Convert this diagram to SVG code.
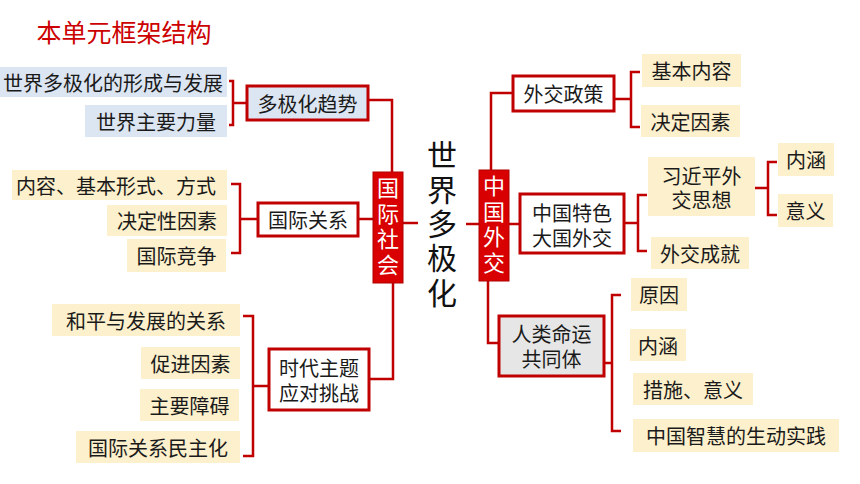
<svg xmlns="http://www.w3.org/2000/svg" width="860" height="484" viewBox="0 0 860 484">
<style>
text{font-family:"Noto Sans CJK SC","Noto Sans",sans-serif;fill:#1a1a1a;font-size:20px;text-anchor:middle;dominant-baseline:central}
text.two{font-family:"Liberation Sans","Noto Sans CJK SC",sans-serif}
.blue{fill:#dce6f2}
.cream{fill:#fdf0cc}
.nd{fill:#fff;stroke:#c00000;stroke-width:3}
.nd.b{fill:#dce6f2}
.nd.g{fill:#e6e6e6}
.core{fill:#d80000;stroke:#b00000;stroke-width:1}
.vt{writing-mode:vertical-rl;text-anchor:start}
.wt{fill:#fff;font-size:22px;letter-spacing:3.5px}
.big{font-size:30px;fill:#111;letter-spacing:4.3px}
.conn path{fill:none;stroke:#c00000;stroke-width:2.5;stroke-linejoin:miter}
</style>
<rect width="860" height="484" fill="#fff"/>
<text x="124" y="31" style="fill:#cc0000;font-size:25px">本单元框架结构</text>

<g class="conn">
<path d="M368 100 H392 V172"/>
<path d="M358 219 H373"/>
<path d="M369 379 H393 V283"/>
<path d="M403 223 H418"/>
<path d="M466 224 H479"/>
<path d="M491 170 V93 H513"/>
<path d="M509 224 H520"/>
<path d="M488 281 V343 H499"/>
<path d="M229 81 H233 V125 H229 M233 103 H247"/>
<path d="M231 184 H240 V253 H231 M240 219 H258"/>
<path d="M243 316 H253 V456 H243 M253 386 H269"/>
<path d="M640 72 H631 V127 H640 M614 99 H631"/>
<path d="M647 195 H638 V251 H647 M624 223 H638"/>
<path d="M777 162 H768 V215 H777 M755 188 H768"/>
<path d="M621 295 H612 V431 H621 M604 363 H612"/>
</g>

<g id="center">
<text x="442" y="140" class="big vt">世界多极化</text>
</g>

<g id="guojishehui">
<rect x="373" y="172" width="30" height="111" class="core"/>
<text x="388" y="177" class="wt vt">国际社会</text>
</g>
<g id="zhongguowaijiao">
<rect x="479" y="170" width="30" height="111" class="core"/>
<text x="494" y="175" class="wt vt">中国外交</text>
</g>

<g id="duojihua">
<rect x="247" y="86" width="121" height="34" class="nd b"/>
<text x="307.5" y="103">多极化趋势</text>
</g>
<g id="l1a"><rect x="0" y="67" width="227" height="30" class="blue"/><text x="113" y="82">世界多极化的形成与发展</text></g>
<g id="l1b"><rect x="85" y="105" width="142" height="32" class="blue"/><text x="156" y="121">世界主要力量</text></g>

<g id="guojiguanxi">
<rect x="258" y="203" width="100" height="33" class="nd"/>
<text x="308" y="219.5">国际关系</text>
</g>
<g id="l2a"><rect x="12" y="170" width="215" height="30" class="cream"/><text x="116" y="185">内容、基本形式、方式</text></g>
<g id="l2b"><rect x="107" y="205" width="120" height="31" class="cream"/><text x="167" y="220.5">决定性因素</text></g>
<g id="l2c"><rect x="127" y="239" width="99" height="33" class="cream"/><text x="176.5" y="255.5">国际竞争</text></g>

<g id="shidai">
<rect x="269" y="349" width="100" height="61" class="nd"/>
<text class="two"><tspan x="319" y="369">时代主题</tspan><tspan x="319" y="394">应对挑战</tspan></text>
</g>
<g id="l3a"><rect x="52" y="304" width="188" height="32" class="cream"/><text x="146" y="320">和平与发展的关系</text></g>
<g id="l3b"><rect x="141" y="347" width="99" height="32" class="cream"/><text x="190.5" y="363">促进因素</text></g>
<g id="l3c"><rect x="140" y="389" width="99" height="32" class="cream"/><text x="189.5" y="405">主要障碍</text></g>
<g id="l3d"><rect x="76" y="431" width="164" height="32" class="cream"/><text x="158" y="447">国际关系民主化</text></g>

<g id="waijiaozhengce">
<rect x="513" y="76" width="101" height="35" class="nd"/>
<text x="563.5" y="93.5">外交政策</text>
</g>
<g id="r1a"><rect x="642" y="54" width="99" height="33" class="cream"/><text x="691.5" y="70.5">基本内容</text></g>
<g id="r1b"><rect x="641" y="105" width="99" height="32" class="cream"/><text x="690.5" y="121">决定因素</text></g>

<g id="tese">
<rect x="520" y="194" width="104" height="59" class="nd"/>
<text class="two"><tspan x="572" y="214">中国特色</tspan><tspan x="572" y="239">大国外交</tspan></text>
</g>
<g id="xi"><rect x="648" y="157" width="107" height="59" class="cream"/><text class="two"><tspan x="701.5" y="177">习近平外</tspan><tspan x="701.5" y="201">交思想</tspan></text></g>
<g id="r2b"><rect x="651" y="237" width="98" height="32" class="cream"/><text x="700" y="253">外交成就</text></g>
<g id="r3a"><rect x="778" y="143" width="56" height="33" class="cream"/><text x="806" y="159.5">内涵</text></g>
<g id="r3b"><rect x="778" y="194" width="55" height="33" class="cream"/><text x="805.5" y="210.5">意义</text></g>

<g id="renlei">
<rect x="499" y="316" width="105" height="60" class="nd g"/>
<text class="two"><tspan x="551.5" y="335">人类命运</tspan><tspan x="551.5" y="360">共同体</tspan></text>
</g>
<g id="r4a"><rect x="631" y="278" width="56" height="33" class="cream"/><text x="659" y="294.5">原因</text></g>
<g id="r4b"><rect x="630" y="329" width="56" height="32" class="cream"/><text x="658" y="345">内涵</text></g>
<g id="r4c"><rect x="633" y="373" width="120" height="32" class="cream"/><text x="693" y="389">措施、意义</text></g>
<g id="r4d"><rect x="633" y="419" width="206" height="33" class="cream"/><text x="736" y="435.5">中国智慧的生动实践</text></g>
</svg>
